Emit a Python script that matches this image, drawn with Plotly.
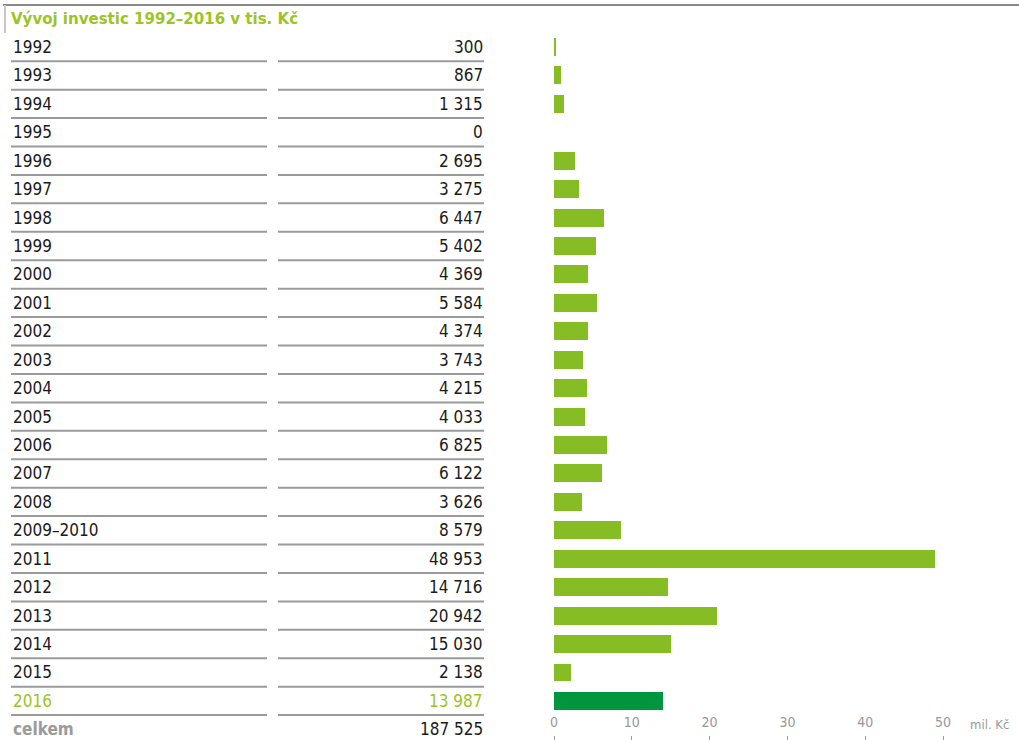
import plotly.graph_objects as go

years = ["1992", "1993", "1994", "1995", "1996", "1997", "1998", "1999", "2000",
         "2001", "2002", "2003", "2004", "2005", "2006", "2007", "2008",
         "2009–2010", "2011", "2012", "2013", "2014", "2015", "2016"]
values_tis = [300, 867, 1315, 0, 2695, 3275, 6447, 5402, 4369, 5584, 4374, 3743,
              4215, 4033, 6825, 6122, 3626, 8579, 48953, 14716, 20942, 15030, 2138, 13987]
value_labels = ["300", "867", "1 315", "0", "2 695", "3 275", "6 447", "5 402", "4 369",
                "5 584", "4 374", "3 743", "4 215", "4 033", "6 825", "6 122", "3 626",
                "8 579", "48 953", "14 716", "20 942", "15 030", "2 138", "13 987"]
total_label = "celkem"
total_value = "187 525"
title_text = "Vývoj investic 1992–2016 v tis. Kč"
x_ticks = [0, 10, 20, 30, 40, 50]
unit_label = "mil. Kč"

W, H = 1019, 740
FONT = "DejaVu Sans Condensed, Liberation Sans Narrow, Roboto, sans-serif"
GREEN = "#86bc24"
DARK_GREEN = "#009640"
TITLE_GREEN = "#9cc425"
TEXT = "#1a1a1a"
GRAY_LINE = "#9a9a9a"
FS = 17

values_mil = [v / 1000 for v in values_tis]
colors = [GREEN] * (len(years) - 1) + [DARK_GREEN]
cats = years + [total_label]

# row geometry in pixels
row0, pitch = 47, 28.43
y_top = -row0 / pitch
y_bot = (H - row0) / pitch

# x geometry
x0px, x50px = 554, 943
ppu = (x50px - x0px) / 50
pad = 6  # px to the left of zero so the "0" label fits
x_min = -pad / ppu
x_max = (W - x0px) / ppu

fig = go.Figure()
fig.add_trace(go.Bar(
    x=values_mil, y=years, orientation="h",
    marker=dict(color=colors, line=dict(width=0)),
    width=0.63, hoverinfo="skip", showlegend=False,
))

ann = []
shapes = []
for i, (yr, lab) in enumerate(zip(years, value_labels)):
    col = TITLE_GREEN if i == len(years) - 1 else TEXT
    ann.append(dict(x=11 / W, y=i, xref="paper", yref="y", text=yr, showarrow=False,
                    xanchor="left", yanchor="middle", font=dict(family=FONT, size=FS, color=col)))
    ann.append(dict(x=485 / W, y=i, xref="paper", yref="y", text=lab, showarrow=False,
                    xanchor="right", yanchor="middle", font=dict(family=FONT, size=FS, color=col)))
    for xa, xb in [(11, 267), (278, 484)]:
        shapes.append(dict(type="line", xref="paper", yref="y", x0=xa / W, x1=xb / W,
                           y0=i + 0.5, y1=i + 0.5, line=dict(color=GRAY_LINE, width=2)))

n = len(years)
ann.append(dict(x=11 / W, y=n, xref="paper", yref="y", text="<b>" + total_label + "</b>",
                showarrow=False, xanchor="left", yanchor="middle",
                font=dict(family=FONT, size=FS, color="#9a9a9a")))
ann.append(dict(x=485 / W, y=n, xref="paper", yref="y", text=total_value,
                showarrow=False, xanchor="right", yanchor="middle",
                font=dict(family=FONT, size=FS, color=TEXT)))
ann.append(dict(x=9 / W, y=1 - 18 / H, xref="paper", yref="paper", text="<b>" + title_text + "</b>",
                showarrow=False, xanchor="left", yanchor="middle",
                font=dict(family=FONT, size=16.7, color=TITLE_GREEN)))
ann.append(dict(x=968 / W, y=1 - 724 / H, xref="paper", yref="paper", text=unit_label,
                showarrow=False, xanchor="left", yanchor="middle",
                font=dict(family=FONT, size=13, color="#999999")))

# top border and left tick of the frame
shapes.append(dict(type="line", xref="paper", yref="paper", x0=3 / W, x1=1, y0=1 - 5 / H, y1=1 - 5 / H,
                   line=dict(color="#8a8a8a", width=2)))
shapes.append(dict(type="line", xref="paper", yref="paper", x0=5 / W, x1=5 / W, y0=1 - 5 / H, y1=1 - 33 / H,
                   line=dict(color="#c8c8c8", width=2)))

fig.update_layout(
    width=W, height=H, margin=dict(l=0, r=0, t=0, b=0),
    paper_bgcolor="white", plot_bgcolor="white",
    annotations=ann, shapes=shapes, bargap=0,
    xaxis=dict(domain=[(x0px - pad) / W, 1], range=[x_min, x_max], tickvals=x_ticks,
               showgrid=False, zeroline=False, showline=False, fixedrange=True,
               ticks="inside", ticklen=4, tickcolor="#999999", tickwidth=1,
               ticklabelposition="inside", ticklabelstandoff=6,
               tickfont=dict(family=FONT, size=14, color="#999999")),
    yaxis=dict(domain=[0, 1], type="category", categoryorder="array", categoryarray=cats,
               range=[y_bot, y_top], showticklabels=False, showgrid=False, fixedrange=True,
               zeroline=False, showline=False, ticks=""),
)

fig.write_html("out.html", config={"displayModeBar": False},
               post_script="document.body.style.margin='0';document.body.style.overflow='hidden';")
